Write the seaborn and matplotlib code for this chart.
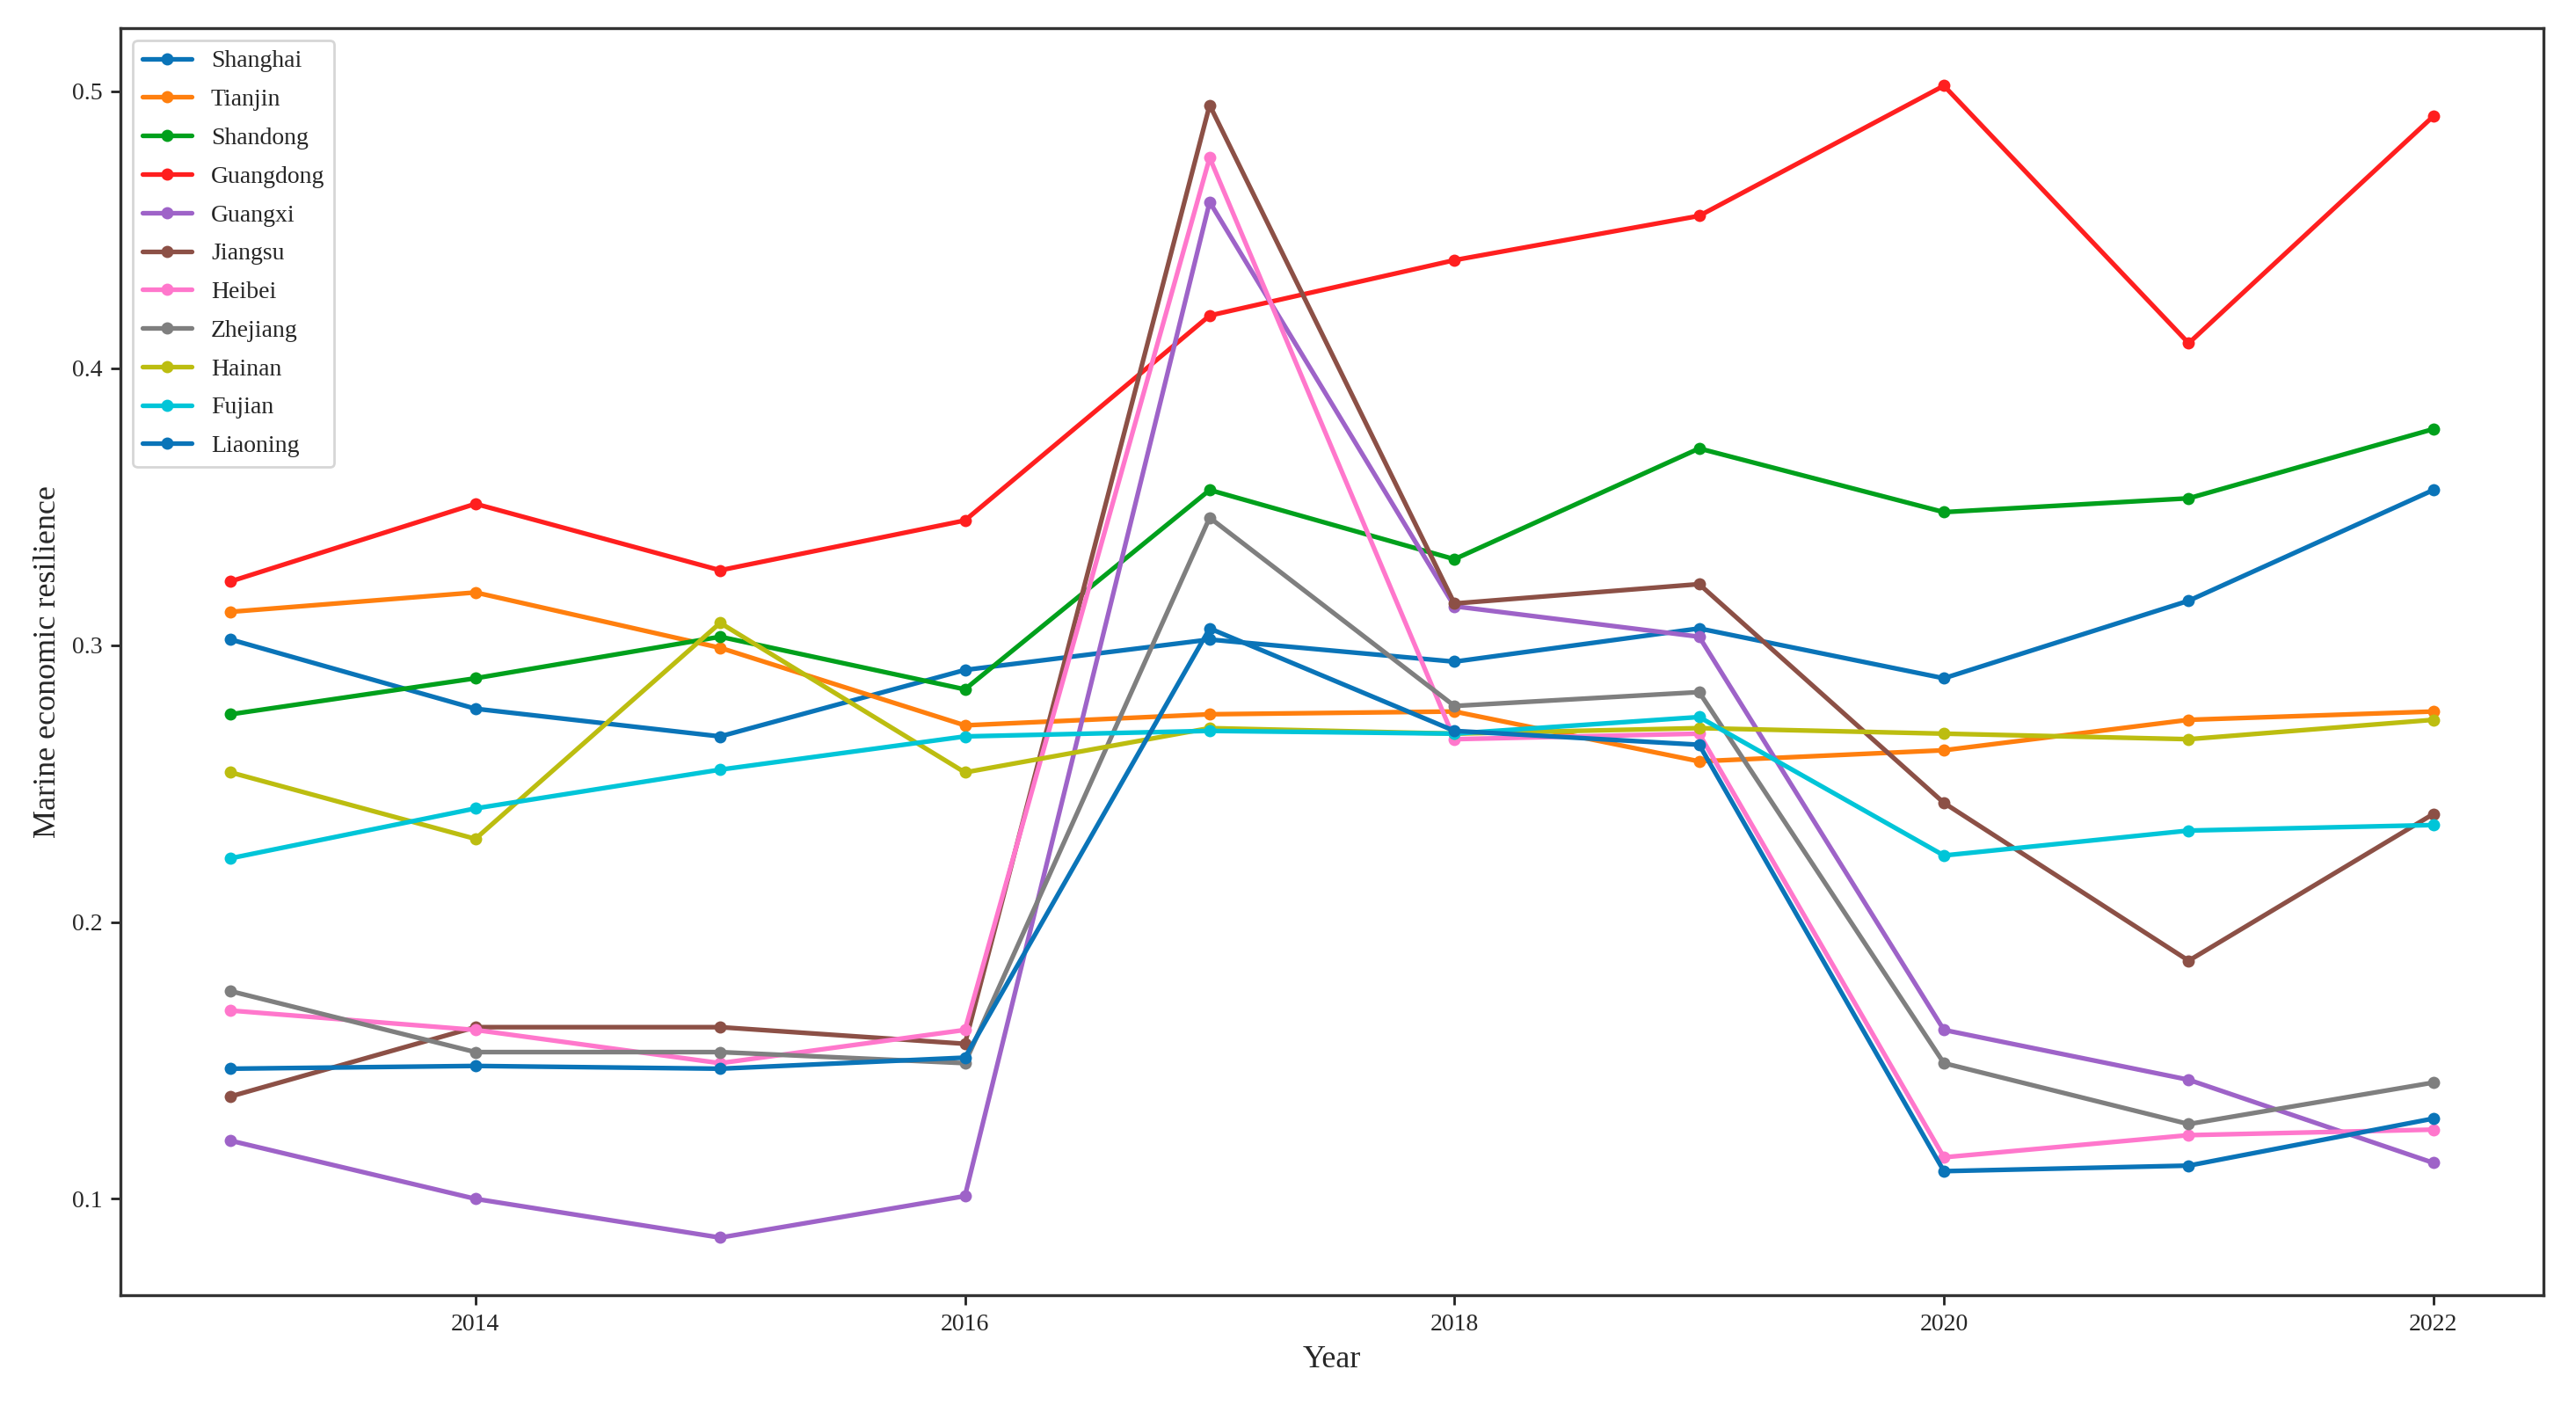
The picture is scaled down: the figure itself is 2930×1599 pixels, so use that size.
import numpy as np
import pandas as pd
import matplotlib.pyplot as plt
import seaborn as sns

# Marine economic resilience by province, 2013-2022
years = [2013, 2014, 2015, 2016, 2017, 2018, 2019, 2020, 2021, 2022]

shanghai = [0.302, 0.277, 0.267, 0.291, 0.302, 0.294, 0.306, 0.288, 0.316, 0.356]
tianjin = [0.312, 0.319, 0.299, 0.271, 0.275, 0.276, 0.258, 0.262, 0.273, 0.276]
shandong = [0.275, 0.288, 0.303, 0.284, 0.356, 0.331, 0.371, 0.348, 0.353, 0.378]
guangdong = [0.323, 0.351, 0.327, 0.345, 0.419, 0.439, 0.455, 0.502, 0.409, 0.491]
guangxi = [0.121, 0.100, 0.086, 0.101, 0.460, 0.314, 0.303, 0.161, 0.143, 0.113]
jiangsu = [0.137, 0.162, 0.162, 0.156, 0.495, 0.315, 0.322, 0.243, 0.186, 0.239]
heibei = [0.168, 0.161, 0.149, 0.161, 0.476, 0.266, 0.268, 0.115, 0.123, 0.125]
zhejiang = [0.175, 0.153, 0.153, 0.149, 0.346, 0.278, 0.283, 0.149, 0.127, 0.142]
hainan = [0.254, 0.230, 0.308, 0.254, 0.270, 0.268, 0.270, 0.268, 0.266, 0.273]
fujian = [0.223, 0.241, 0.255, 0.267, 0.269, 0.268, 0.274, 0.224, 0.233, 0.235]
liaoning = [0.147, 0.148, 0.147, 0.151, 0.306, 0.269, 0.264, 0.110, 0.112, 0.129]

provinces = ['Shanghai', 'Tianjin', 'Shandong', 'Guangdong', 'Guangxi', 'Jiangsu',
             'Heibei', 'Zhejiang', 'Hainan', 'Fujian', 'Liaoning']
series = [shanghai, tianjin, shandong, guangdong, guangxi, jiangsu,
          heibei, zhejiang, hainan, fujian, liaoning]
colors = ['#0a74b8', '#ff7f0e', '#00a01c', '#ff1f1f', '#9e63c8', '#8c5046',
          '#ff77cc', '#7f7f7f', '#bcbd10', '#00c5d8', '#0a74b8']

sns.set_style('ticks')
plt.rcParams['font.family'] = ['Liberation Serif', 'DejaVu Serif']
plt.rcParams['font.size'] = 10

fig = plt.figure(figsize=(14.65, 7.995), dpi=200)
ax = fig.add_axes([0.0468, 0.0788, 0.9406, 0.9012])

for name, vals, c in zip(provinces, series, colors):
    sns.lineplot(x=years, y=vals, ax=ax, label=name, color=c, marker='o',
                 markersize=5, markeredgewidth=0, linewidth=1.9)

ax.set_xlabel('Year', fontsize=13)
ax.set_ylabel('Marine economic resilience', fontsize=13)
ax.tick_params(labelsize=10, width=1.0, length=4, color='#222222')
for s in ax.spines.values():
    s.set_linewidth(1.2)
    s.set_color('#333333')
ax.margins(x=0.05, y=0.05)

leg = ax.legend(loc='upper left', fontsize=10, frameon=True, labelspacing=0.66)
leg.get_frame().set_edgecolor('#cccccc')

fig.savefig('out.png', dpi=200)
